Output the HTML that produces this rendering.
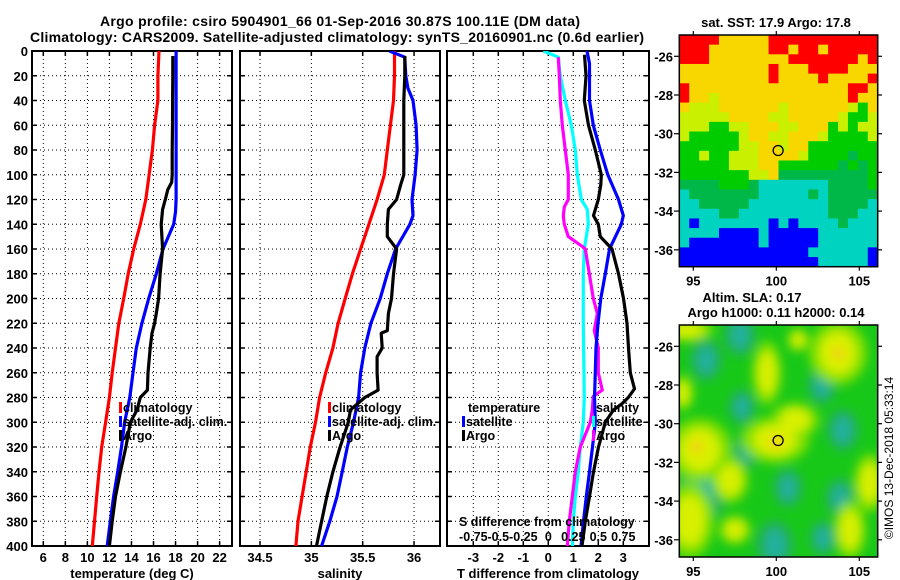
<!DOCTYPE html>
<html><head><meta charset="utf-8"><style>
html,body{margin:0;padding:0;background:#fff;}
svg{display:block;font-family:"Liberation Sans",sans-serif;font-weight:bold;}
</style></head><body>
<svg id="chart" width="900" height="580" viewBox="0 0 900 580" xmlns="http://www.w3.org/2000/svg">
<defs>
<clipPath id="c1"><rect x="32" y="51" width="200" height="495"/></clipPath>
<clipPath id="c2"><rect x="240" y="51" width="200" height="495"/></clipPath>
<clipPath id="c3"><rect x="447" y="51" width="202" height="495"/></clipPath>
<clipPath id="cm2"><rect x="679" y="325" width="199" height="232"/></clipPath>
<filter id="blur" x="-50%" y="-50%" width="200%" height="200%"><feGaussianBlur stdDeviation="5"/></filter>
</defs>
<text x="340" y="26" text-anchor="middle" font-size="14" textLength="480">Argo profile: csiro 5904901_66 01-Sep-2016 30.87S 100.11E (DM data)</text>
<text x="337" y="42" text-anchor="middle" font-size="14" textLength="614">Climatology: CARS2009. Satellite-adjusted climatology: synTS_20160901.nc (0.6d earlier)</text>
<g id="g"></g>
</svg>
<script>
// ---------- data ----------
const depthStd = [0,20,40,60,80,100,120,140,160,180,200,220,240,260,280,300,320,340,360,380,400];
const tempClim = [16.5,16.4,16.4,16.1,15.9,15.6,15.3,14.8,14.2,13.7,13.3,12.85,12.55,12.25,12.0,11.65,11.3,11.05,10.85,10.65,10.45];
const depthTSat = [0,20,40,60,80,100,120,130,140,160,180,200,220,240,260,280,300,320,340,360,380,400];
const tempSat = [18.05,18.05,18.05,18.05,18.05,18.05,18.05,18.0,17.83,16.86,16.25,15.56,14.95,14.44,14.14,13.85,13.38,13.1,12.75,12.38,12.08,11.8];
const depthTArgo = [4,20,40,60,80,100,106,112,120,128,140,160,180,200,212,220,228,240,260,274,280,290,300,320,340,360,380,400];
const tempArgo = [17.75,17.75,17.73,17.72,17.7,17.7,17.65,17.3,17.07,16.83,16.7,16.83,16.6,16.46,16.25,16.1,15.86,15.7,15.5,15.45,14.8,14.5,13.9,13.5,13.0,12.55,12.25,12.0];

const salClim = [35.81,35.81,35.8,35.77,35.74,35.71,35.64,35.56,35.48,35.40,35.33,35.26,35.21,35.14,35.08,35.04,34.99,34.95,34.91,34.87,34.85];
const depthSSat = [0,5,20,30,40,60,80,100,120,133,140,160,180,200,220,240,260,280,300,320,340,360,380,400];
const salSat = [35.76,35.91,35.92,35.94,35.99,36.02,36.03,36.01,35.98,35.99,35.96,35.82,35.74,35.67,35.58,35.52,35.48,35.46,35.41,35.35,35.30,35.25,35.18,35.10];
const depthSArgo = [4,20,40,60,80,100,108,120,128,140,150,160,180,200,212,226,228,240,247,260,274,280,290,300,320,340,360,380,400];
const salArgo = [35.91,35.91,35.9,35.9,35.9,35.9,35.87,35.83,35.75,35.74,35.74,35.83,35.80,35.78,35.75,35.74,35.68,35.69,35.64,35.64,35.65,35.52,35.38,35.36,35.28,35.21,35.15,35.10,35.05];

const depthDTSat = [0,10,40,60,80,100,120,133,140,160,180,200,220,240,260,280,300,320,340,360,380,400];
const dTSat = [1.55,1.65,1.65,1.8,2.08,2.38,2.81,3.0,2.92,2.45,2.28,2.1,1.99,1.91,1.88,1.85,1.88,1.77,1.65,1.52,1.41,1.31];
const depthDTArgo = [3,20,40,60,80,100,108,120,133,140,150,160,180,200,220,240,260,273,280,285,290,300,320,340,360,380,400];
const dTArgo = [1.45,1.51,1.44,1.61,1.88,2.12,2.1,2.0,1.81,2.0,2.08,2.55,2.81,3.01,3.15,3.21,3.28,3.45,3.2,2.95,2.61,2.28,2.01,1.81,1.65,1.48,1.35];
const depthDSSat = [0,5,20,40,60,80,100,120,128,140,160,180,220,280,300,320,340,360,380,400];
const dSSat = [-0.05,0.10,0.12,0.17,0.23,0.27,0.29,0.33,0.39,0.40,0.36,0.35,0.35,0.36,0.35,0.32,0.30,0.27,0.25,0.24];
const depthDSArgo = [5,20,40,60,80,100,120,126,133,140,150,158,160,180,200,212,226,240,260,274,279,290,300,320,340,360,380,400];
const dSArgo = [0.10,0.11,0.12,0.14,0.17,0.20,0.20,0.16,0.15,0.16,0.20,0.34,0.37,0.41,0.45,0.49,0.46,0.50,0.50,0.54,0.45,0.44,0.42,0.32,0.27,0.24,0.21,0.19];

const depthTicks = [0,20,40,60,80,100,120,140,160,180,200,220,240,260,280,300,320,340,360,380,400];
const tempTicks = [6,8,10,12,14,16,18,20,22];
const salTicks = [34.5,35,35.5,36];
const dTTicks = [-3,-2,-1,0,1,2,3];
const dSTickLabels = ["-0.75","-0.5","-0.25","0","0.25","0.5","0.75"];
const dSTicks = [-0.75,-0.5,-0.25,0,0.25,0.5,0.75];

// SST map (coarse grid, 20 x 24), codes: R red, Y yellow, L lime, G green, D dark green, C cyan, B blue
const sstRows = [
"RRRRYYYYYRRRRRRRRRRR","RRRYYYYYYRRYRRYRRRRR","RRRYYYYYYYYRRRRRRRYR","YYYYYYYYYRYYYRRRRYYY",
"YYYYYYYYYRYYYYRYYYYR","RYYYYYYYYYYYYYYYYRRY","RYYLYYYYYYYYYYYYYRYY","YLLLYYYYYYLYYYYYYLGY",
"LLLLLYYYYLLYYYYYLGGL","LLLGGLLYYYLLYYYGLGLL","LGGGGGLYYLLYYYLGGGGL","GGGGGGLLYYLYYGGGGGGG",
"GGLGGLLLYYYYLGGGGDGG","GGGGGLLLYYGGGGGGDGDG","GGGGGGGLLYDDDDDDDDDG","DDDDGGGDCCCCCCCDDDDG",
"CDDDDDDDCCCCCDCDDDDD","CCDDDDDCCCCCCCCDDDDC","CCCCDDCCCCCCCCCDDDCC","CBCCCCCCCBCBCCCCDCCC",
"CCCCBBBBCBBBBBCCCCCC","CBBBBBBBCBBBBBCCCCCC","BBBBBBBBBBBBBCCCCCCB","BBBBBBBBBBBBBBCCCCCB"];
const sstColors = {R:"#ff0000",Y:"#f8d600",L:"#c8f000",G:"#00cc00",D:"#00b848",C:"#00d4c0",B:"#0000ff"};
const lonTicks = [95,100,105];
const latTicks = [-26,-28,-30,-32,-34,-36];
const argoLon = 100.11, argoLat = -30.87;
// SLA map blobs
const yelLon = [94.62,99.44,103.72,94.38,99.92,101.13,95.40,97.21,105.64,104.44,94.80,97.51,101.31];
const yelLat = [-25.16,-27.38,-26.35,-28.41,-30.84,-29.81,-31.36,-32.91,-33.06,-35.49,-34.98,-35.49,-25.67];
const yelRx = [1.0,0.55,1.1,0.4,1.3,0.9,1.2,0.7,0.6,0.6,0.9,0.6,0.4];
const yelRy = [0.4,1.1,1.1,0.6,0.8,0.6,1.1,0.8,1.0,1.0,1.3,0.5,0.4];
const orLon = [103.72,99.92,95.2];
const orLat = [-26.35,-30.94,-31.2];
const tealLon = [95.77,97.81,97.93,98.23,95.58,100.70,102.75,104.01,103.84,102.81,99.92];
const tealLat = [-26.71,-25.42,-29.14,-31.36,-33.43,-33.32,-28.0,-30.33,-33.84,-35.91,-36.27];
const tealR = [0.6,0.6,0.5,0.5,0.9,0.55,0.55,0.6,0.55,0.5,0.7];

// ---------- scales ----------
const yD = d => 51 + d*1.2375;
const xT = t => 43.3 + (t-6)*11.02;
const xS = s => 260 + (s-34.5)*102.7;
const xDT = v => 548.3 + v*25;
const xDS = v => 548.3 + v*100;
const mLon = l => 693.3 + (l-95)*16.6;
const mLat1 = l => 56.3 + (-26-l)*19.35;
const mLat2 = l => 346.3 + (-26-l)*19.35;

const NS="http://www.w3.org/2000/svg";
const G=document.getElementById('g');
function mk(tag,attrs,parent){const e=document.createElementNS(NS,tag);for(const k in attrs)e.setAttribute(k,attrs[k]);(parent||G).appendChild(e);return e;}

function panel(x0,x1,name,xs,gridVals,clip){
  const g=mk('g',{});
  
  
  depthTicks.forEach(d=>{
    const y=yD(d);
    if(d>0&&d<400){const l=mk('line',{x1:x0,x2:x1,y1:y,y2:y,stroke:'#000','stroke-width':1,'stroke-dasharray':'1,3'},g);
    
    }
    mk('line',{x1:x0,x2:x0+5,y1:y,y2:y,stroke:'#000','stroke-width':1.5},g);
    mk('line',{x1:x1-5,x2:x1,y1:y,y2:y,stroke:'#000','stroke-width':1.5},g);
  });
  gridVals.forEach(v=>{
    const x=xs(v);
    const l=mk('line',{x1:x,x2:x,y1:yD(0),y2:yD(400),stroke:'#000','stroke-width':1,'stroke-dasharray':'1,3'},g);
    
    
    mk('line',{x1:x,x2:x,y1:yD(0),y2:yD(0)+5,stroke:'#000','stroke-width':1.5},g);
    mk('line',{x1:x,x2:x,y1:yD(400)-5,y2:yD(400),stroke:'#000','stroke-width':1.5},g);
  });
  const r=mk('rect',{x:x0,y:yD(0),width:x1-x0,height:yD(400)-yD(0),fill:'none',stroke:'#000','stroke-width':2},g);
  
  
  return g;
}
function series(depths,vals,xs,color,name,clip){
  const pts=depths.map((d,i)=>xs(vals[i]).toFixed(1)+','+yD(d).toFixed(1)).join(' ');
  const p=mk('polyline',{points:pts,fill:'none',stroke:color,'stroke-width':3.2,'stroke-linejoin':'round','clip-path':'url(#'+clip+')'});
  
  
}
function txt(x,y,s,size,anchor,name,extra){
  const t=mk('text',Object.assign({x:x,y:y,'font-size':size,'text-anchor':anchor||'start'},extra||{}));
  t.textContent=s;
  
  
  return t;
}
function legend(x,y,color,label,name){
  const m=mk('rect',{x:x,y:y-10,width:3,height:11,fill:color});
  
  
  txt(x+4,y,label,12.5,'start',name);
}

// Panel 1 temperature
panel(32,232,'temperature-panel',xT,tempTicks,'c1');
series(depthStd,tempClim,xT,'#ff0000','temp-climatology-line','c1');
series(depthTSat,tempSat,xT,'#0000ff','temp-satellite-line','c1');
series(depthTArgo,tempArgo,xT,'#000000','temp-argo-line','c1');
depthTicks.forEach(d=>txt(28,yD(d)+5,String(d),13,'end','depth-tick-label'));
tempTicks.forEach(v=>txt(xT(v),562,String(v),13,'middle','temp-tick-label'));
txt(132,578,'temperature (deg C)',13,'middle','temp-axis-title');
legend(119,412,'#ff0000','climatology','legend-climatology');
legend(119,426,'#0000ff','satellite-adj. clim.','legend-satellite-adj');
legend(119,440,'#000000','Argo','legend-argo');

// Panel 2 salinity
panel(240,440,'salinity-panel',xS,salTicks,'c2');
series(depthStd,salClim,xS,'#ff0000','sal-climatology-line','c2');
series(depthSSat,salSat,xS,'#0000ff','sal-satellite-line','c2');
series(depthSArgo,salArgo,xS,'#000000','sal-argo-line','c2');
salTicks.forEach(v=>txt(xS(v),562,String(v),13,'middle','sal-tick-label'));
txt(340,578,'salinity',13,'middle','sal-axis-title');
legend(328,412,'#ff0000','climatology','legend2-climatology');
legend(328,426,'#0000ff','satellite-adj. clim.','legend2-satellite-adj');
legend(328,440,'#000000','Argo','legend2-argo');

// Panel 3 differences
panel(447,649,'difference-panel',xDT,dTTicks,'c3');
series(depthDSSat,dSSat,xDS,'#00ffff','sal-diff-satellite-line','c3');
series(depthDSArgo,dSArgo,xDS,'#ff00ff','sal-diff-argo-line','c3');
series(depthDTSat,dTSat,xDT,'#0000ff','temp-diff-satellite-line','c3');
series(depthDTArgo,dTArgo,xDT,'#000000','temp-diff-argo-line','c3');
dTTicks.forEach(v=>txt(xDT(v),562,String(v),13,'middle','tdiff-tick-label'));
txt(548,578,'T difference from climatology',13,'middle','tdiff-axis-title');
txt(459,526,'S difference from climatology',12.5,'start','sdiff-axis-title');
dSTicks.forEach((v,i)=>txt(xDS(v),541,dSTickLabels[i],12.5,'middle','sdiff-tick-label'));
txt(468,412,'temperature',12.5,'start','legend3-temperature-header');
legend(462,426,'#0000ff','satellite','legend3-temp-satellite');
legend(462,440,'#000000','Argo','legend3-temp-argo');
txt(596,412,'salinity',12.5,'start','legend3-salinity-header');
legend(592,426,'#00ffff','satellite','legend3-sal-satellite');
legend(592,440,'#ff00ff','Argo','legend3-sal-argo');

// Map 1 SST
txt(776,27,'sat. SST: 17.9  Argo: 17.8',13,'middle','sst-map-title');
const m1=mk('g',{});


const cw=(877.7-679.3)/20, ch=(266.7-35)/24;
sstRows.forEach((row,r)=>{for(let c=0;c<row.length;c++){
  const cell=mk('rect',{x:(679.3+c*cw).toFixed(2),y:(35+r*ch).toFixed(2),width:(cw+0.5).toFixed(2),height:(ch+0.5).toFixed(2),fill:sstColors[row[c]]},m1);
  
  
}});
function mapFrame(y0,y1,latF,name,showLon){
  const f=mk('rect',{x:679.3,y:y0,width:198.4,height:y1-y0,fill:'none',stroke:'#000','stroke-width':1.5});
  
  
  latTicks.forEach(l=>{const y=latF(l);
    mk('line',{x1:674,x2:679.3,y1:y,y2:y,stroke:'#000','stroke-width':1.2});
    mk('line',{x1:877.7,x2:882,y1:y,y2:y,stroke:'#000','stroke-width':1.2});
    txt(673,y+5,String(l),13,'end',name+'-lat-label');});
  lonTicks.forEach(l=>{const x=mLon(l);
    mk('line',{x1:x,x2:x,y1:y0-4,y2:y0,stroke:'#000','stroke-width':1.2});
    mk('line',{x1:x,x2:x,y1:y1,y2:y1+4,stroke:'#000','stroke-width':1.2});
    txt(x,y1+19,String(l),13,'middle',name+'-lon-label');});
  const c=mk('circle',{cx:mLon(argoLon),cy:latF(argoLat),r:5,fill:'none',stroke:'#000','stroke-width':1.3});
  
  
}
mapFrame(35,266.7,mLat1,'sst-map',true);

// Map 2 SLA
txt(752,302,'Altim. SLA: 0.17',13,'middle','sla-map-title');
txt(776,317,'Argo h1000: 0.11 h2000: 0.14',13,'middle','sla-map-subtitle');
const m2=mk('g',{'clip-path':'url(#cm2)'});


mk('rect',{x:679,y:325,width:199,height:232,fill:'#18c818'},m2);
const bl=mk('g',{filter:'url(#blur)'},m2);
tealLon.forEach((l,i)=>{const e=mk('ellipse',{cx:mLon(l),cy:mLat2(tealLat[i]),rx:tealR[i]*16.6*1.6,ry:tealR[i]*19.35*1.8,fill:'#22b060'},bl);
  
  });
tealLon.forEach((l,i)=>{const e=mk('ellipse',{cx:mLon(l),cy:mLat2(tealLat[i]),rx:tealR[i]*16.6*0.8,ry:tealR[i]*19.35*1.1,fill:'#20b0a0'},bl);
  
  });
yelLon.forEach((l,i)=>{const e=mk('ellipse',{cx:mLon(l),cy:mLat2(yelLat[i]),rx:yelRx[i]*16.6*1.6,ry:yelRy[i]*19.35*1.5,fill:'#80e000'},bl);
  
  });
yelLon.forEach((l,i)=>{const e=mk('ellipse',{cx:mLon(l),cy:mLat2(yelLat[i]),rx:yelRx[i]*16.6,ry:yelRy[i]*19.35,fill:'#d8f000'},bl);
  
  });
orLon.forEach((l,i)=>{const e=mk('ellipse',{cx:mLon(l),cy:mLat2(orLat[i]),rx:6,ry:7,fill:'#f4d010'},bl);
  
  });
mapFrame(325,557,mLat2,'sla-map',true);

// copyright
txt(0,0,'\u00a9IMOS 13-Dec-2018 05:33:14',12,'middle','copyright-stamp',{transform:'translate(893,458) rotate(-90)','font-weight':'normal'});
</script>
</body></html>
